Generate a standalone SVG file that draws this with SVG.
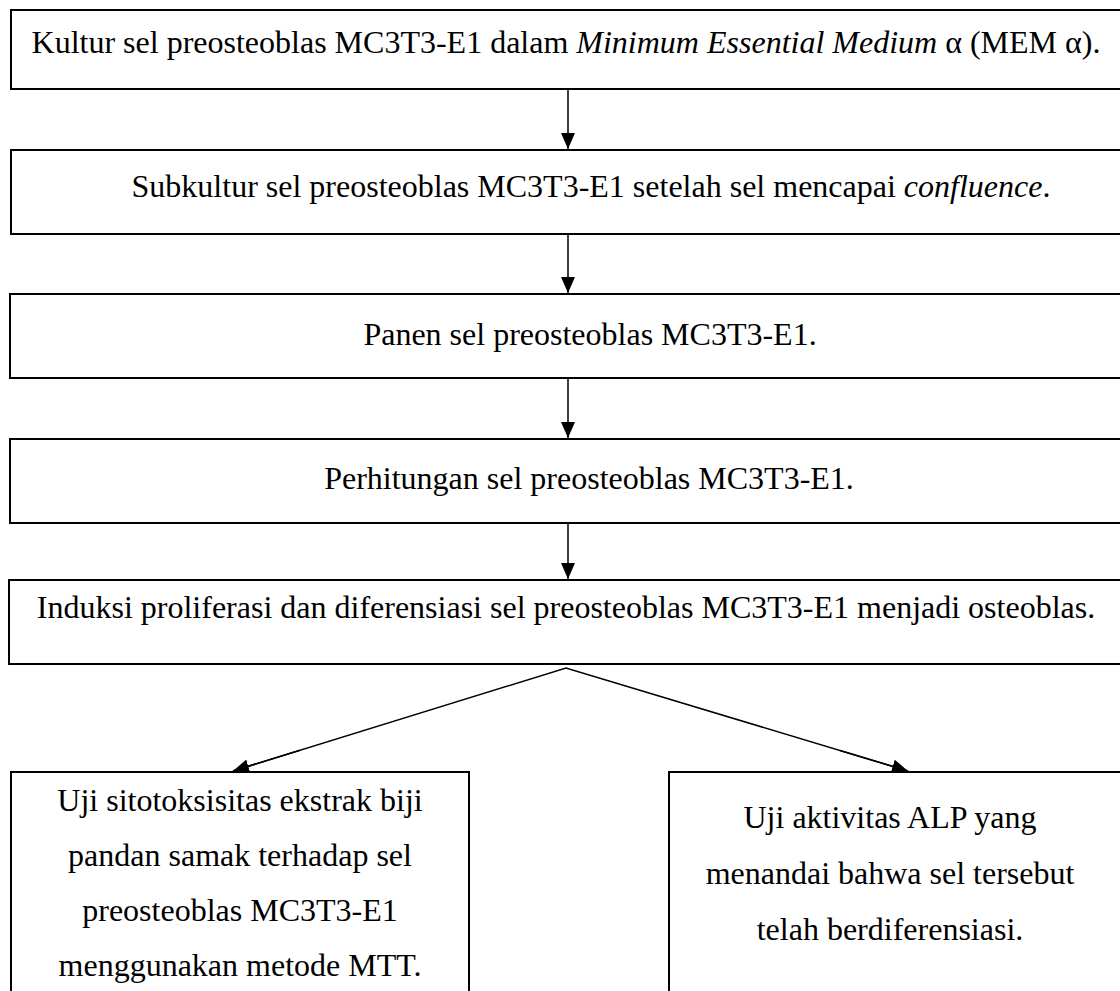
<svg xmlns="http://www.w3.org/2000/svg" width="1120" height="991" viewBox="0 0 1120 991">
<defs>
<style>
.box{fill:#fff;stroke:#000;stroke-width:2}
.t{font-family:"Liberation Serif","Times New Roman",serif;font-size:32px;fill:#000;text-anchor:middle}
.i{font-style:italic}
.c{stroke:#000;stroke-width:1.5;fill:none}
</style>
<marker id="ah" viewBox="0 0 10 10" refX="10" refY="5" markerWidth="10" markerHeight="10" markerUnits="userSpaceOnUse" orient="auto">
<path d="M0,0 L10,5 L0,10 z" fill="#000"/>
</marker>
<marker id="ah2" viewBox="0 0 16 14" refX="16" refY="7" markerWidth="16" markerHeight="14" markerUnits="userSpaceOnUse" orient="auto">
<path d="M0,0 L16,7 L0,14 z" fill="#000"/>
</marker>
</defs>
<rect width="1120" height="991" fill="#fff"/>
<g id="n1"><rect class="box" x="11" y="10" width="1130" height="79"/>
<text class="t" x="566" y="53">Kultur sel preosteoblas MC3T3-E1 dalam <tspan class="i">Minimum Essential Medium</tspan> α (MEM α).</text></g>
<g id="n2"><rect class="box" x="11" y="150" width="1130" height="84"/>
<text class="t" x="591" y="197">Subkultur sel preosteoblas MC3T3-E1 setelah sel mencapai <tspan class="i">confluence</tspan>.</text></g>
<g id="n3"><rect class="box" x="10" y="294" width="1130" height="84"/>
<text class="t" x="590" y="345">Panen sel preosteoblas MC3T3-E1.</text></g>
<g id="n4"><rect class="box" x="10" y="439" width="1130" height="84"/>
<text class="t" x="589" y="489">Perhitungan sel preosteoblas MC3T3-E1.</text></g>
<g id="n5"><rect class="box" x="9" y="580" width="1130" height="84"/>
<text class="t" x="566" y="618">Induksi proliferasi dan diferensiasi sel preosteoblas MC3T3-E1 menjadi osteoblas.</text></g>
<g id="n6"><rect class="box" x="11" y="772" width="458" height="240"/>
<text class="t" x="240" y="811">Uji sitotoksisitas ekstrak biji</text>
<text class="t" x="240" y="866">pandan samak terhadap sel</text>
<text class="t" x="240" y="921">preosteoblas MC3T3-E1</text>
<text class="t" x="240" y="976">menggunakan metode MTT.</text></g>
<g id="n7"><rect class="box" x="669" y="772" width="470" height="240"/>
<text class="t" x="890" y="828">Uji aktivitas ALP yang</text>
<text class="t" x="890" y="884">menandai bahwa sel tersebut</text>
<text class="t" x="890" y="940">telah berdiferensiasi.</text></g>
<g id="connectors">
<line class="c" x1="568" y1="90" x2="568" y2="149" marker-end="url(#ah2)"/>
<line class="c" x1="568" y1="235" x2="568" y2="293" marker-end="url(#ah2)"/>
<line class="c" x1="568" y1="379" x2="568" y2="438" marker-end="url(#ah2)"/>
<line class="c" x1="568" y1="524" x2="568" y2="579" marker-end="url(#ah2)"/>
<polyline class="c" points="233,771 566,668 908,771"/>
<line class="c" x1="300" y1="750.3" x2="233" y2="771" marker-end="url(#ah2)"/>
<line class="c" x1="840" y1="750.5" x2="908" y2="771" marker-end="url(#ah2)"/>
</g>
</svg>
